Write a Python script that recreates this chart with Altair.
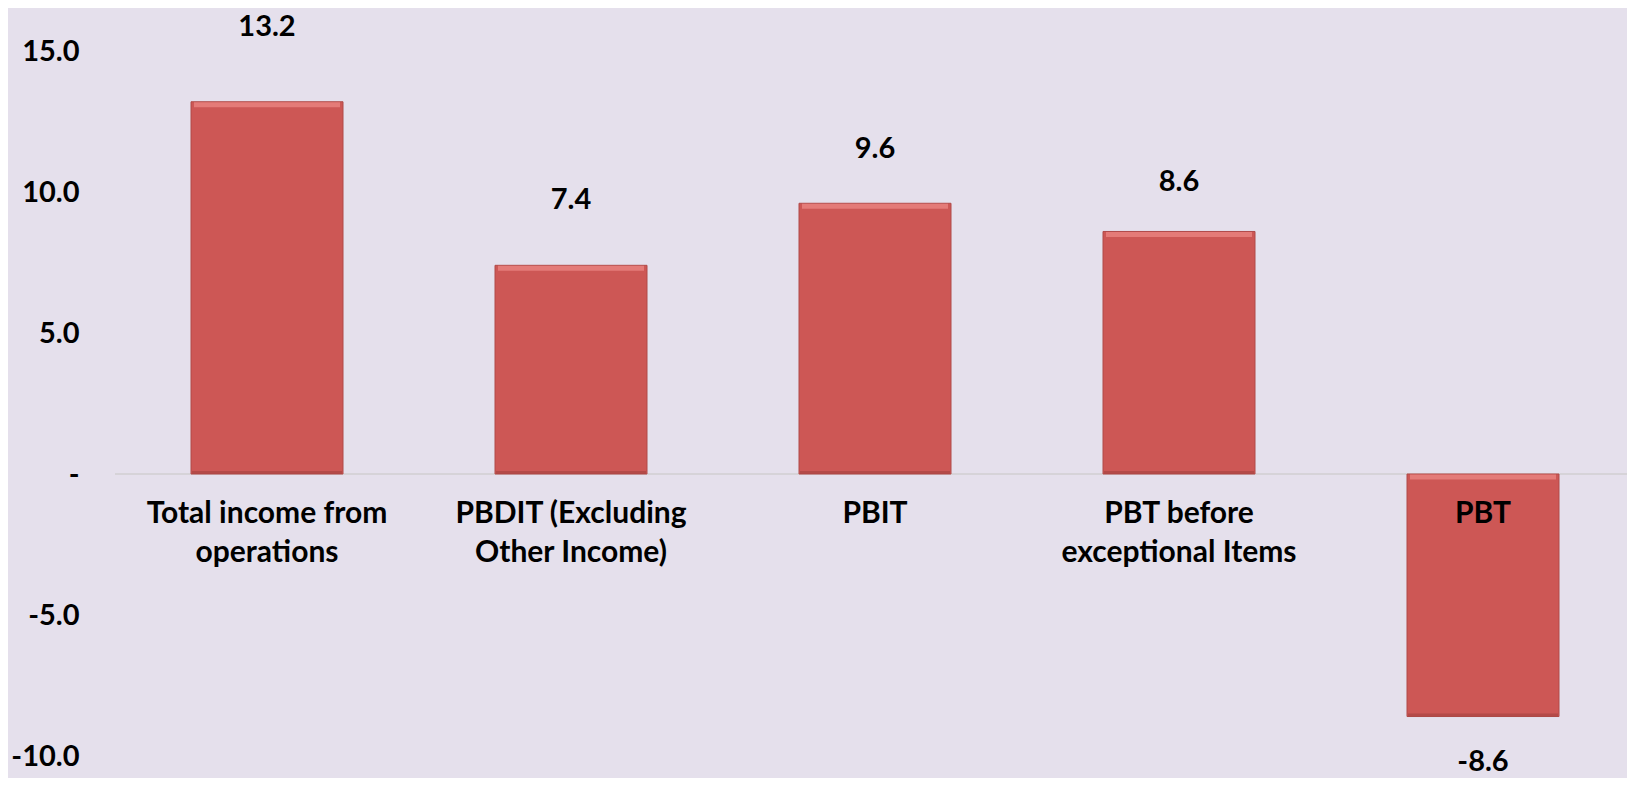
import altair as alt
import pandas as pd

categories = [
    "Total income from\noperations",
    "PBDIT (Excluding\nOther Income)",
    "PBIT",
    "PBT before\nexceptional Items",
    "PBT",
]
values = [13.2, 7.4, 9.6, 8.6, -8.6]
value_labels = ["13.2", "7.4", "9.6", "8.6", "-8.6"]
y_ticks = [-10, -5, 0, 5, 10, 15]

# style: vertical pixel offset of each value label from the bar end
label_dy = [-75, -65, -54, -49, 45]

df = pd.DataFrame({
    "cat": categories,
    "value": values,
    "vlabel": value_labels,
    "dy": label_dy,
})

FONT = "Lato"
BG = "#E5E0EC"
BAR = "#CD5755"

x_enc = alt.X("cat:N", sort=categories, axis=None,
              scale=alt.Scale(range=[0, 1520], paddingInner=0.5, paddingOuter=0.25))
y_scale = alt.Scale(domain=[-10, 15], nice=False, zero=False)

base = alt.Chart(df)

bars = base.mark_bar(color=BAR, stroke="#B04B49", strokeWidth=1).encode(
    x=x_enc,
    y=alt.Y("value:Q", scale=y_scale,
            axis=alt.Axis(values=y_ticks, grid=False, domain=False, ticks=False,
                          labelExpr="datum.value == 0 ? '-\u2007\u2007' : replace(format(datum.value, '.1f'), '\u2212', '-')",
                          labelFont=FONT, labelFontSize=29, labelFontWeight="bold",
                          labelColor="#000000", labelPadding=36, title=None)),
    y2=alt.datum(0),
)

top_hl = base.transform_calculate(top="max(datum.value, 0)").mark_tick(
    color="#EE8A88", thickness=5, size=146, yOffset=3
).encode(x=x_enc, y=alt.Y("top:Q", scale=y_scale))

bot_hl = base.transform_calculate(bot="min(datum.value, 0)").mark_tick(
    color="#A94543", thickness=3, size=150, yOffset=-1.5
).encode(x=x_enc, y=alt.Y("bot:Q", scale=y_scale))

zero_line = alt.Chart(pd.DataFrame({"z": [0]})).mark_rule(
    color="#D6D3D8", strokeWidth=2
).encode(y=alt.Y("z:Q", scale=y_scale))

val_text = base.mark_text(font=FONT, fontSize=29, fontWeight="bold", color="#000000",
                          baseline="middle", dy=alt.ExprRef("datum.dy")).encode(
    x=x_enc,
    y=alt.Y("value:Q", scale=y_scale),
    text="vlabel:N",
)

cat_text = base.transform_calculate(zero="0").mark_text(
    font=FONT, fontSize=30, fontWeight="bold", color="#000000",
    baseline="middle", dy=40, lineBreak="\n", lineHeight=39).encode(
    x=x_enc,
    y=alt.Y("zero:Q", scale=y_scale),
    text="cat:N",
)

chart = alt.layer(zero_line, bars, top_hl, bot_hl, val_text, cat_text).properties(
    width=1512,
    height=705,
    autosize=alt.AutoSizeParams(type="none"),
    padding={"left": 107, "top": 43, "right": 0, "bottom": 22},
    background=BG,
).configure_view(stroke=None)

chart.save("out.html", embed_options={"renderer": "svg", "actions": False})
